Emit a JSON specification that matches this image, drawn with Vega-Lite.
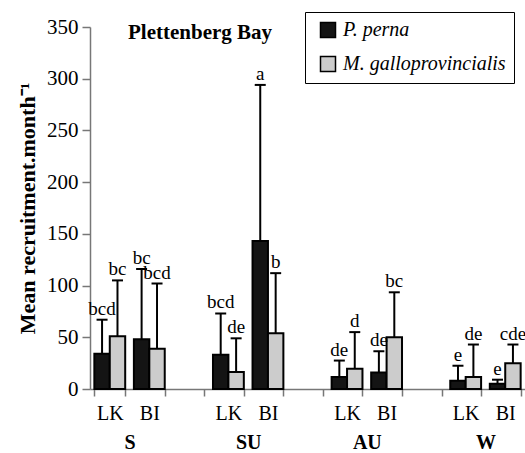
{
  "$schema": "https://vega.github.io/schema/vega-lite/v6.json",
  "autosize": {"type": "none"},
  "width": 435,
  "height": 362,
  "padding": {"left": 90, "top": 27, "right": 0, "bottom": 64},
  "background": "white",
  "config": {
    "font": "Liberation Serif",
    "view": {"stroke": null}
  },
  "title": {"text": "Plettenberg Bay", "anchor": "start", "frame": "group", "dx": 38, "dy": 37, "offset": -11, "baseline": "alphabetic", "font": "Liberation Serif", "fontSize": 21, "fontWeight": "bold", "color": "black"},
  "data": {
    "values": [
      {"cat": "S-LK", "season": "S", "site": "LK", "species": "P. perna", "mean": 34, "upper": 67, "sig": "bcd"},
      {"cat": "S-LK", "season": "S", "site": "LK", "species": "M. galloprovincialis", "mean": 51, "upper": 105, "sig": "bc"},
      {"cat": "S-BI", "season": "S", "site": "BI", "species": "P. perna", "mean": 48, "upper": 116, "sig": "bc"},
      {"cat": "S-BI", "season": "S", "site": "BI", "species": "M. galloprovincialis", "mean": 39, "upper": 102, "sig": "bcd"},
      {"cat": "SU-LK", "season": "SU", "site": "LK", "species": "P. perna", "mean": 33, "upper": 73, "sig": "bcd"},
      {"cat": "SU-LK", "season": "SU", "site": "LK", "species": "M. galloprovincialis", "mean": 16.5, "upper": 49, "sig": "de"},
      {"cat": "SU-BI", "season": "SU", "site": "BI", "species": "P. perna", "mean": 143, "upper": 294, "sig": "a"},
      {"cat": "SU-BI", "season": "SU", "site": "BI", "species": "M. galloprovincialis", "mean": 54, "upper": 112, "sig": "b"},
      {"cat": "AU-LK", "season": "AU", "site": "LK", "species": "P. perna", "mean": 11.5, "upper": 27.5, "sig": "de"},
      {"cat": "AU-LK", "season": "AU", "site": "LK", "species": "M. galloprovincialis", "mean": 19.5, "upper": 55, "sig": "d"},
      {"cat": "AU-BI", "season": "AU", "site": "BI", "species": "P. perna", "mean": 16, "upper": 36.5, "sig": "de"},
      {"cat": "AU-BI", "season": "AU", "site": "BI", "species": "M. galloprovincialis", "mean": 50, "upper": 93.5, "sig": "bc"},
      {"cat": "W-LK", "season": "W", "site": "LK", "species": "P. perna", "mean": 8, "upper": 22.5, "sig": "e"},
      {"cat": "W-LK", "season": "W", "site": "LK", "species": "M. galloprovincialis", "mean": 11.5, "upper": 43, "sig": "de"},
      {"cat": "W-BI", "season": "W", "site": "BI", "species": "P. perna", "mean": 5, "upper": 9, "sig": "e"},
      {"cat": "W-BI", "season": "W", "site": "BI", "species": "M. galloprovincialis", "mean": 25, "upper": 43, "sig": "cde"}
    ]
  },
  "encoding": {
    "y": {
      "field": "mean", "type": "quantitative", "title": "Mean recruitment.month⁻¹",
      "scale": {"domain": [0, 350], "nice": false},
      "axis": {"values": [0, 50, 100, 150, 200, 250, 300, 350], "grid": false, "tickSize": 8, "tickWidth": 1.5, "tickColor": "#777777", "domainColor": "#777777", "domainWidth": 1.5, "labelPadding": 4, "labelFontSize": 21, "labelColor": "black", "titleFontSize": 22, "titleFontWeight": "bold", "titleColor": "black", "titlePadding": 7, "titleFont": "Liberation Serif"}
    }
  },
  "layer": [
    {
      "encoding": {
        "x": {
          "field": "cat", "type": "nominal", "sort": null,
          "scale": {"domain": ["S-LK", "S-BI", "g1", "SU-LK", "SU-BI", "g2", "AU-LK", "AU-BI", "g3", "W-LK", "W-BI"], "paddingInner": 0.22, "paddingOuter": 0.11},
          "axis": {"title": null, "labelAngle": 0, "labelExpr": "indexof('' + datum.value, 'LK') >= 0 ? 'LK' : (indexof('' + datum.value, 'BI') >= 0 ? 'BI' : '')", "tickBand": "extent", "tickSize": 7, "tickWidth": 1.5, "tickColor": "#777777", "domainColor": "#777777", "domainWidth": 1.5, "labelPadding": 7, "labelFontSize": 20, "labelColor": "black", "labelFont": "Liberation Serif"}
        },
        "xOffset": {"field": "species", "type": "nominal", "sort": null, "scale": {"domain": ["P. perna", "M. galloprovincialis"]}}
      },
      "layer": [
        {
          "mark": {"type": "bar", "stroke": "black", "strokeWidth": 2},
          "encoding": {
            "color": {
              "field": "species", "type": "nominal", "sort": null,
              "scale": {"domain": ["P. perna", "M. galloprovincialis"], "range": ["#141414", "#cccccc"]},
              "legend": {"title": null, "orient": "none", "legendX": 215, "legendY": -15, "strokeColor": "black", "fillColor": "white", "padding": 8, "symbolType": "square", "symbolSize": 225, "symbolStrokeColor": "black", "symbolStrokeWidth": 1.5, "symbolOffset": 5, "labelOffset": 5, "labelFontSize": 20, "labelFontStyle": "italic", "labelFont": "Liberation Serif", "labelColor": "black", "labelLimit": 300, "rowPadding": 12}
            }
          }
        },
        {
          "mark": {"type": "rule", "strokeWidth": 2, "color": "black"},
          "encoding": {
            "y2": {"field": "upper"}
          }
        },
        {
          "mark": {"type": "tick", "thickness": 2, "size": 11, "color": "black", "opacity": 1},
          "encoding": {
            "y": {"field": "upper", "type": "quantitative", "title": "Mean recruitment.month⁻¹"}
          }
        },
        {
          "mark": {"type": "text", "dy": -5, "baseline": "alphabetic", "fontSize": 19, "font": "Liberation Serif", "color": "black"},
          "encoding": {
            "y": {"field": "upper", "type": "quantitative", "title": "Mean recruitment.month⁻¹"},
            "text": {"field": "sig"}
          }
        }
      ]
    },
    {
      "mark": {"type": "point", "opacity": 0},
      "encoding": {
        "x": {
          "field": "season", "type": "nominal", "sort": null,
          "scale": {"type": "point", "domain": ["S", "SU", "AU", "W"], "padding": 0.3333},
          "axis": {"orient": "bottom", "title": null, "domain": false, "ticks": false, "tickSize": 0, "labelPadding": 43, "labelAngle": 0, "labelFontSize": 20, "labelFontWeight": "bold", "labelColor": "black", "labelFont": "Liberation Serif"}
        }
      }
    }
  ],
  "resolve": {"scale": {"x": "independent"}}
}
